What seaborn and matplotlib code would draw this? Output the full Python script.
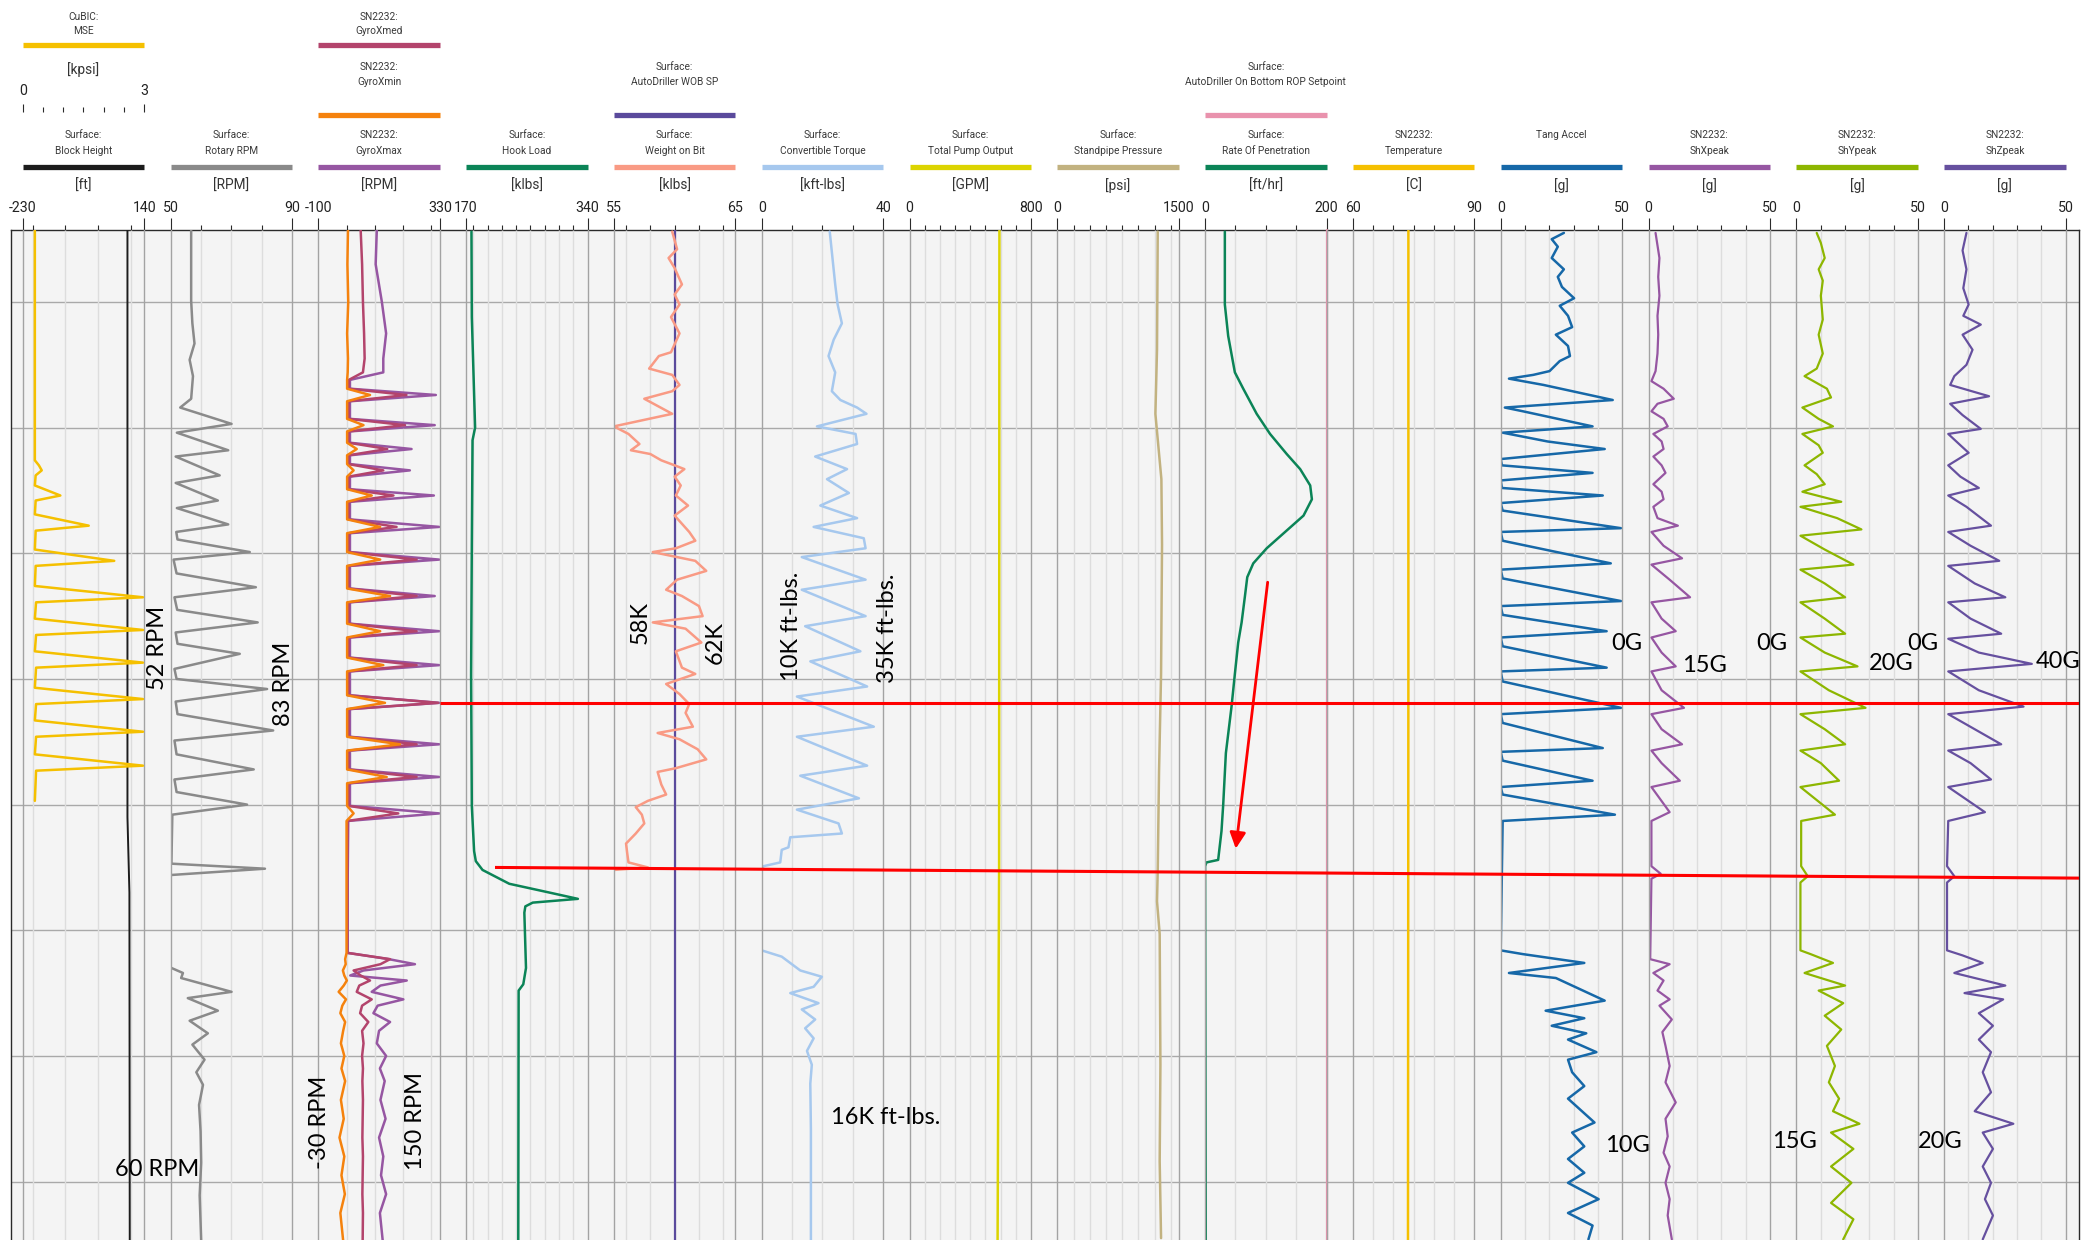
import numpy as np
import pandas as pd
import matplotlib.pyplot as plt
import seaborn as sns

# ---------------- depth axis (arbitrary units, one grid line every 10) ----------------
DEPTH_TOP, DEPTH_BOTTOM = -5.73, 74.65
depth_grid = [0, 10, 20, 30, 40, 50, 60, 70]

# ---------------- track scales ----------------
track_lo = [-230, 50, -100, 170, 55, 0, 0, 0, 0, 60, 0, 0, 0, 0]
track_hi = [140, 90, 330, 340, 65, 40, 800, 1500, 200, 90, 50, 50, 50, 50]
track_units = ["[ft]", "[RPM]", "[RPM]", "[klbs]", "[klbs]", "[kft-lbs]", "[GPM]",
               "[psi]", "[ft/hr]", "[C]", "[g]", "[g]", "[g]", "[g]"]
track_ticks = [[-200, -100, 0, 100], [60, 70, 80], [0, 100, 200, 300],
               [180, 200, 220, 240, 260, 280, 300, 320], [56, 58, 60, 62, 64],
               [10, 20, 30], [100, 200, 300, 400, 500, 600, 700],
               [200, 400, 600, 800, 1000, 1200, 1400], [50, 100, 150],
               [65, 70, 75, 80, 85], [10, 20, 30, 40], [10, 20, 30, 40],
               [10, 20, 30, 40], [10, 20, 30, 40]]
mse_lo, mse_hi = 0, 3
mse_ticks = [0.5, 1.0, 1.5, 2.0, 2.5]

# ---------------- curves ----------------
mse_depth = [-5.7, 12.6, 13.0, 13.4, 13.8, 14.6, 15.4, 15.8, 16.9, 17.8, 18.2, 19.7, 20.6,
             21.0, 22.6, 23.5, 23.9, 25.2, 26.1, 26.5, 27.8, 28.7, 29.1, 30.7, 31.6, 32.0,
             33.3, 34.2, 34.6, 36.0, 36.9, 37.3, 39.7]
mse_kpsi = [0.30, 0.30, 0.40, 0.47, 0.32, 0.30, 0.93, 0.32, 0.30, 1.63, 0.32, 0.30, 2.26,
            0.32, 0.30, 2.97, 0.33, 0.30, 2.97, 0.33, 0.30, 2.97, 0.33, 0.30, 2.97, 0.33,
            0.30, 2.97, 0.33, 0.30, 2.97, 0.33, 0.30]

bh_depth = [-5.7, 41.0, 47.0, 74.7]
bh_ft = [89, 89, 95, 96]

rpm_depth_a = [-5.7, -0.1, 1.7, 3.3, 4.6, 5.9, 7.7, 8.4, 9.7, 10.4, 11.8, 12.3, 13.8, 14.4,
               15.8, 16.4, 17.7, 18.3, 18.9, 19.9, 20.5, 21.6, 22.7, 23.5, 24.5, 25.5, 26.3,
               27.2, 28.0, 29.2, 30.0, 30.8, 31.8, 32.8, 34.1, 34.9, 36.0, 37.2, 38.0, 39.0,
               40.0, 40.8, 44.7, 45.1, 45.6]
rpm_a = [56.8, 56.8, 57.2, 57.9, 56.3, 57.4, 56.8, 53.2, 70.1, 52.1, 69.0, 51.7, 66.2, 51.7,
         65.6, 52.1, 69.0, 51.9, 52.3, 76.1, 51.0, 52.0, 78.1, 51.3, 52.2, 78.7, 51.7,
         52.3, 72.8, 51.3, 52.0, 81.8, 51.7, 52.3, 83.8, 51.3, 52.0, 77.4, 51.3, 52.0,
         75.2, 50.6, 50.3, 81.1, 50.3]
rpm_depth_b = [53.0, 53.4, 53.8, 54.9, 55.4, 56.4, 57.2, 58.2, 59.1, 60.3, 61.3, 62.3, 63.9,
               66.0, 68.5, 71.1, 74.7]
rpm_b = [50.3, 54.1, 53.5, 70.1, 55.7, 65.6, 56.3, 62.3, 57.2, 61.2, 58.5, 60.7, 59.4,
         59.9, 60.1, 59.6, 60.1]

gyro_depth = ([-5.7, -3.0, 0.0, 2.5, 4.5, 5.6, 6.2]
              + [6.9, 7.4, 7.9, 9.3, 9.8, 10.3, 11.2, 11.7, 12.2, 12.9, 13.4, 13.9, 14.9, 15.4,
                 15.9, 17.3, 17.9, 18.4, 19.9, 20.5, 21.0, 22.8, 23.4, 23.9, 25.6, 26.2, 26.7,
                 28.3, 28.9, 29.4, 31.3, 31.9, 32.4, 34.6, 35.2, 35.7, 37.2, 37.8, 38.3, 40.1,
                 40.7, 41.3]
              + [46.0, 51.8, 52.3, 52.7, 53.2, 53.6, 54.0, 54.4, 54.9, 55.5, 56.0, 56.6, 57.3,
                 58.0, 59.0, 60.0, 61.0, 62.0, 63.5, 65.0, 66.5, 68.0, 69.5, 71.0, 72.5, 74.7])
gyro_xmin = ([5, 3, 6, 2, 5, 4, 2]
             + [2, 83, 2, 2, 60, 2, 2, 36, 2, 2, 25, 2, 2, 89, 2, 2, 119, 2, 2, 119, 2, 2, 154,
                2, 2, 119, 2, 2, 130, 2, 2, 136, 2, 2, 189, 2, 2, 142, 2, 2, 25, 0]
             + [0, 0, -5, -3, -13, -8, 1, -10, -28, -2, -15, -22, -5, -12, -20, -8, -18, -5,
                -20, -10, -25, -8, -18, -6, -22, -12])
gyro_xmed = ([50, 55, 58, 62, 64, 58, 8]
             + [7, 212, 7, 7, 207, 7, 7, 144, 7, 7, 130, 7, 7, 166, 7, 7, 177, 7, 7, 248, 7, 7,
                248, 7, 7, 248, 7, 7, 248, 7, 7, 324, 7, 7, 248, 7, 7, 248, 7, 7, 183, 4]
             + [3, 3, 154, 120, 25, 50, 83, 45, 36, 89, 55, 48, 77, 55, 60, 55, 58, 56, 58, 57,
                56, 58, 57, 56, 58, 57])
gyro_xmax = ([107, 103, 125, 140, 130, 130, 12]
             + [12, 316, 12, 12, 312, 12, 12, 230, 12, 12, 224, 12, 12, 309, 12, 12, 328, 12,
                12, 328, 12, 12, 312, 12, 12, 328, 12, 12, 328, 12, 12, 328, 12, 12, 328, 12,
                12, 328, 12, 12, 328, 6]
             + [4, 4, 150, 242, 60, 13, 213, 120, 89, 201, 110, 95, 154, 115, 107, 140, 118,
                135, 120, 138, 115, 130, 122, 140, 118, 128])

hook_depth = [-5.6, 1.2, 10.0, 11.0, 19.3, 29.7, 40.1, 43.7, 44.5, 45.2, 46.3, 47.0, 47.5,
              47.8, 48.1, 48.6, 53.0, 54.3, 54.8, 74.7]
hook_klbs = [177.5, 178.0, 182.6, 179.0, 178.0, 177.0, 178.0, 181.2, 183.6, 193.0, 230.4,
             286.6, 326.4, 263.2, 252.9, 251.5, 253.8, 250.0, 243.5, 243.0]

wob_depth = [-5.6, -4.2, -3.5, -2.7, -1.4, -0.6, 0.2, 1.2, 2.5, 4.0,
             4.3, 5.3, 5.8, 6.6, 7.1, 7.7, 8.9, 9.9, 10.5, 11.3,
             11.8, 12.1, 12.6, 13.0, 13.3, 13.9, 14.6, 15.4, 16.2, 17.0,
             18.3, 19.0, 19.6, 19.9, 20.6, 21.4, 22.1, 22.9, 23.4, 24.2,
             25.0, 25.5, 26.0, 27.1, 27.8, 29.1, 29.6, 30.4, 31.2, 32.0,
             32.7, 33.8, 34.3, 34.8, 35.6, 36.4, 37.1, 37.4, 38.4, 39.2,
             39.7, 40.2, 40.8, 41.5, 42.3, 43.1, 43.9, 44.6, 45.0, 45.2]
wob_klbs = [59.8, 60.2, 59.5, 60.0, 60.6, 60.0, 60.4, 59.7, 60.4, 59.7,
            58.7, 57.9, 59.8, 60.4, 59.8, 57.5, 59.8, 55.0, 56.2, 57.1,
            56.4, 58.0, 58.9, 60.0, 60.8, 60.0, 60.5, 60.1, 61.1, 60.0,
            61.2, 61.7, 60.1, 58.2, 61.7, 62.6, 60.2, 59.3, 60.6, 62.0,
            62.3, 58.2, 60.9, 62.2, 60.1, 60.6, 61.7, 59.3, 60.4, 61.2,
            60.9, 61.5, 58.6, 60.4, 61.9, 62.6, 60.1, 58.6, 58.9, 59.3,
            57.8, 56.8, 57.3, 57.5, 56.8, 56.0, 56.1, 56.2, 57.8, 55.0]
wob_sp_depth = [-5.7, 74.7]
wob_sp_klbs = [60.0, 60.0]

torque_depth = [-5.6, -1.4, 0.2, 1.7, 3.0, 4.3, 5.6, 7.1, 7.8, 8.4,
                8.9, 9.9, 10.5, 11.3, 12.3, 13.3, 14.1, 15.2, 16.2, 17.2,
                17.9, 18.8, 19.6, 20.3, 22.1, 22.9, 25.0, 25.8, 27.8, 28.6,
                30.6, 31.4, 33.8, 34.6, 36.9, 37.7, 39.5, 40.4, 41.5, 42.3,
                42.6, 43.4, 43.6, 44.6, 44.9, 45.2, 51.6, 52.1, 53.2, 53.7,
                54.5, 55.0, 55.8, 56.3, 57.1, 57.8, 58.6, 59.6, 60.7, 62.2,
                65.9, 74.7]
torque_kftlbs = [22.4, 24.2, 25.0, 26.4, 23.7, 22.0, 24.2, 23.1, 25.9, 31.4,
                 34.5, 18.2, 30.9, 31.4, 17.6, 28.1, 21.5, 28.7, 19.3, 31.4,
                 17.1, 33.6, 34.2, 13.2, 34.2, 13.2, 34.2, 14.3, 32.5, 16.0,
                 34.7, 11.6, 36.9, 11.6, 34.7, 12.7, 32.0, 11.6, 25.3, 26.4,
                 9.4, 8.8, 6.6, 6.1, 0.6, 0.0, 0.0, 6.6, 12.7, 19.8,
                 17.1, 9.4, 18.7, 13.2, 17.6, 14.3, 17.1, 14.9, 16.5, 16.0,
                 16.2, 16.2]

pump_depth = [-5.7, 20.0, 45.0, 60.0, 74.7]
pump_gpm = [592, 591, 590, 585, 580]

spp_depth = [-5.6, 3.8, 8.9, 14.1, 19.3, 29.6, 37.4, 45.2, 47.7, 50.3, 60.7, 68.4, 74.5]
spp_psi = [1240, 1231, 1211, 1285, 1293, 1281, 1256, 1240, 1231, 1264, 1273, 1264, 1281]

rop_depth = [-5.6, 0.2, 2.7, 5.6, 6.9, 8.9, 10.5, 12.1, 13.3, 14.6, 15.7, 17.0, 18.3, 19.6,
             20.8, 21.9, 23.4, 25.5, 27.1, 29.6, 32.2, 35.9, 40.0, 42.1, 44.4, 44.6, 44.9, 74.7]
rop_fthr = [32.5, 32.5, 38.0, 49.0, 62.8, 84.9, 106.9, 134.4, 156.5, 173.0, 175.8, 162.0,
            131.7, 101.4, 79.3, 69.4, 65.6, 60.1, 54.5, 49.0, 43.5, 34.2, 29.8, 27.0, 21.5,
            2.2, 0.0, 1.1]
rop_sp_depth = [-5.7, 74.7]
rop_sp_fthr = [200, 200]

temp_depth = [-5.7, 30.0, 74.7]
temp_c = [73.7, 73.7, 73.6]

tang_depth = [-5.5, -5.0, -4.4, -3.5, -2.6, -2.0, -1.2, -0.3, 0.3, 1.1,
              2.0, 2.6, 3.5, 4.3, 4.7, 5.5, 5.8, 6.1, 6.6, 7.8,
              8.4, 8.7, 9.9, 10.4, 11.1, 11.7, 12.5, 13.0, 13.6, 14.2,
              14.8, 15.4, 16.0, 16.6, 18.0, 18.3, 19.0, 20.8, 21.3, 22.0,
              23.8, 24.2, 24.9, 26.2, 26.7, 27.4, 29.1, 29.4, 30.2, 32.3,
              32.8, 33.5, 35.5, 35.8, 36.5, 38.1, 38.6, 39.2, 40.8, 41.3,
              51.6, 51.9, 52.6, 53.4, 53.8, 55.6, 56.4, 57.0, 57.6, 58.2,
              58.7, 59.7, 60.3, 61.3, 62.4, 63.4, 65.3, 66.1, 67.2, 68.2,
              69.3, 70.1, 71.4, 72.5, 73.5, 74.6]
tang_g = [26.0, 21.0, 23.5, 21.0, 26.0, 23.5, 25.2, 30.2, 24.3, 27.7,
          29.4, 22.7, 27.7, 28.5, 24.3, 20.1, 13.4, 3.4, 17.6, 46.1,
          1.7, 9.2, 37.8, 0.8, 19.3, 42.8, 0.0, 0.5, 37.8, 0.0,
          0.5, 42.0, 0.0, 0.8, 49.5, 0.0, 0.8, 45.3, 0.0, 0.8,
          49.5, 0.0, 0.8, 43.6, 0.0, 0.8, 43.6, 0.0, 0.8, 49.5,
          0.0, 0.8, 42.0, 0.0, 0.8, 37.8, 0.0, 0.8, 47.0, 0.8,
          0.0, 9.2, 34.4, 3.4, 22.7, 42.8, 18.5, 34.4, 21.0, 35.2,
          27.7, 39.4, 27.7, 29.4, 34.4, 27.7, 38.6, 29.4, 34.4, 27.7,
          34.4, 27.7, 40.3, 27.7, 37.8, 36.1]

shx_depth = [-5.5, -3.5, -2.0, -0.5, 1.1, 2.6, 4.1, 5.5, 6.3, 6.9,
             7.7, 8.1, 8.7, 9.3, 9.9, 10.5, 11.1, 11.7, 12.3, 13.0,
             13.6, 14.5, 15.1, 15.7, 16.3, 17.2, 17.8, 18.3, 19.4, 20.4,
             20.9, 22.1, 23.5, 23.9, 25.2, 26.2, 26.7, 27.9, 29.0, 29.4,
             30.9, 32.3, 32.8, 34.0, 35.2, 35.7, 36.7, 38.1, 38.6, 40.6,
             41.3, 44.9, 45.5, 45.9, 52.3, 52.7, 53.4, 54.0, 54.8, 55.5,
             56.0, 57.1, 58.1, 59.2, 60.8, 62.1, 63.7, 65.0, 66.4, 67.7,
             68.8, 70.1, 71.4, 72.7, 74.6]
shx_g = [2.9, 4.5, 4.0, 4.5, 3.7, 4.0, 3.7, 2.9, 1.2, 6.2,
         10.4, 3.7, 1.2, 6.2, 7.9, 2.0, 5.4, 6.2, 2.0, 5.4,
         7.0, 2.0, 5.4, 6.2, 2.0, 3.7, 12.1, 1.2, 6.2, 13.8,
         1.2, 8.7, 17.1, 1.2, 5.4, 11.2, 1.2, 5.4, 11.2, 1.2,
         5.4, 14.6, 1.2, 5.4, 13.8, 1.2, 5.4, 12.9, 1.2, 8.7,
         1.2, 1.2, 5.0, 1.2, 0.7, 8.7, 2.0, 6.2, 3.7, 8.7,
         4.5, 9.6, 5.7, 7.0, 8.7, 7.0, 11.2, 7.0, 7.9, 6.2,
         8.7, 7.0, 8.7, 7.9, 9.6]

shy_depth = [-5.5, -4.7, -3.5, -2.6, -1.7, -0.5, 1.4, 2.6, 4.1, 5.3,
             5.9, 6.9, 7.6, 8.4, 9.3, 9.9, 10.5, 11.4, 12.0, 13.0,
             13.7, 14.5, 15.1, 15.9, 16.3, 17.2, 18.1, 18.6, 19.7, 20.9,
             21.3, 22.4, 23.5, 23.9, 25.2, 26.4, 26.7, 27.9, 29.0, 29.4,
             30.9, 32.3, 32.8, 34.0, 35.2, 35.7, 36.7, 38.1, 38.6, 40.8,
             41.3, 44.9, 45.7, 46.2, 51.6, 51.9, 52.6, 53.4, 54.0, 54.4,
             54.8, 55.8, 56.8, 57.9, 59.2, 60.8, 62.1, 63.4, 64.4, 65.4,
             66.1, 67.4, 68.8, 70.1, 71.7, 73.0, 74.6]
shy_g = [8.4, 10.1, 11.7, 9.2, 10.9, 10.1, 10.9, 9.2, 10.9, 8.4,
         3.4, 12.6, 14.3, 2.5, 9.2, 15.1, 2.5, 9.2, 10.9, 3.4,
         8.4, 11.7, 2.5, 18.5, 1.7, 16.8, 26.8, 1.7, 11.7, 23.5,
         1.7, 11.7, 20.1, 1.7, 11.7, 20.1, 1.7, 11.7, 25.2, 1.7,
         13.4, 28.5, 1.7, 11.7, 20.1, 1.7, 10.1, 17.6, 1.7, 15.9,
         2.0, 2.0, 4.7, 1.7, 1.7, 5.9, 15.1, 3.4, 13.4, 20.1,
         9.2, 19.3, 11.7, 18.5, 12.6, 15.9, 13.4, 17.6, 15.1, 26.0,
         14.3, 23.5, 14.3, 22.7, 14.3, 23.5, 19.3]

shz_depth = [-5.5, -4.1, -2.6, -1.1, 0.2, 1.1, 1.8, 2.6, 3.8, 5.0,
             5.9, 6.6, 7.5, 8.1, 9.0, 10.1, 10.5, 11.4, 12.0, 13.0,
             13.9, 14.8, 15.4, 16.3, 17.8, 18.3, 19.4, 20.6, 21.0, 22.4,
             23.5, 23.9, 25.2, 26.4, 26.8, 27.9, 28.8, 29.4, 30.9, 32.2,
             32.8, 34.0, 35.2, 35.7, 36.7, 38.0, 38.6, 40.6, 41.3, 44.9,
             45.7, 46.2, 51.6, 52.0, 52.6, 53.4, 54.4, 55.0, 55.5, 56.6,
             57.6, 58.7, 59.7, 61.3, 62.9, 64.4, 65.4, 66.1, 67.4, 68.8,
             70.1, 71.4, 72.7, 74.6]
shz_g = [9.2, 7.6, 9.2, 7.9, 10.1, 7.9, 15.1, 7.6, 11.7, 9.2,
         4.2, 2.5, 18.5, 2.5, 7.6, 15.1, 1.7, 6.7, 10.1, 1.7,
         6.7, 14.3, 1.7, 9.2, 19.3, 1.7, 10.9, 22.7, 1.7, 12.6,
         25.2, 1.7, 10.9, 23.5, 1.7, 14.3, 36.1, 1.7, 14.3, 32.7,
         1.7, 12.6, 23.5, 1.7, 10.9, 19.3, 1.7, 16.8, 1.7, 1.2,
         4.2, 1.2, 1.2, 7.6, 15.9, 4.2, 25.2, 8.4, 24.3, 14.3,
         20.1, 14.3, 19.3, 15.9, 19.3, 12.6, 28.5, 15.9, 20.1, 15.9,
         19.3, 16.8, 20.1, 15.9]

# ---------------- colours ----------------
col = {
    "mse": "#f5c000", "bh": "#1c1c1c", "rpm": "#8a8a8a", "xmed": "#b3446c",
    "xmin": "#f5820d", "xmax": "#9656a2", "hook": "#0b8457", "wobsp": "#5a4a9c",
    "wob": "#f99a84", "tq": "#a6c8ee", "pump": "#dcd400", "spp": "#c2b280",
    "ropsp": "#e992ad", "rop": "#0b8457", "temp": "#f5c000", "tang": "#1668a8",
    "shx": "#9656a2", "shy": "#8db600", "shz": "#66509f",
}

# (track, depth, values, colour, linewidth, on MSE scale)
curves = [
    (0, bh_depth, bh_ft, col["bh"], 1.4, False),
    (0, mse_depth, mse_kpsi, col["mse"], 1.8, True),
    (1, rpm_depth_a, rpm_a, col["rpm"], 1.8, False),
    (1, rpm_depth_b, rpm_b, col["rpm"], 1.8, False),
    (2, gyro_depth, gyro_xmax, col["xmax"], 1.8, False),
    (2, gyro_depth, gyro_xmed, col["xmed"], 1.8, False),
    (2, gyro_depth, gyro_xmin, col["xmin"], 1.8, False),
    (3, hook_depth, hook_klbs, col["hook"], 1.8, False),
    (4, wob_sp_depth, wob_sp_klbs, col["wobsp"], 1.6, False),
    (4, wob_depth, wob_klbs, col["wob"], 1.8, False),
    (5, torque_depth, torque_kftlbs, col["tq"], 1.8, False),
    (6, pump_depth, pump_gpm, col["pump"], 1.8, False),
    (7, spp_depth, spp_psi, col["spp"], 1.8, False),
    (8, rop_sp_depth, rop_sp_fthr, col["ropsp"], 1.6, False),
    (8, rop_depth, rop_fthr, col["rop"], 1.8, False),
    (9, temp_depth, temp_c, col["temp"], 1.8, False),
    (10, tang_depth, tang_g, col["tang"], 1.8, False),
    (11, shx_depth, shx_g, col["shx"], 1.6, False),
    (12, shy_depth, shy_g, col["shy"], 1.6, False),
    (13, shz_depth, shz_g, col["shz"], 1.6, False),
]

header_labels = [
    (0, "A", "CuBIC:", "MSE", col["mse"]),
    (0, "C", "Surface:", "Block Height", col["bh"]),
    (1, "C", "Surface:", "Rotary RPM", col["rpm"]),
    (2, "A", "SN2232:", "GyroXmed", col["xmed"]),
    (2, "B", "SN2232:", "GyroXmin", col["xmin"]),
    (2, "C", "SN2232:", "GyroXmax", col["xmax"]),
    (3, "C", "Surface:", "Hook Load", col["hook"]),
    (4, "B", "Surface:", "AutoDriller WOB SP", col["wobsp"]),
    (4, "C", "Surface:", "Weight on Bit", col["wob"]),
    (5, "C", "Surface:", "Convertible Torque", col["tq"]),
    (6, "C", "Surface:", "Total Pump Output", col["pump"]),
    (7, "C", "Surface:", "Standpipe Pressure", col["spp"]),
    (8, "B", "Surface:", "AutoDriller On Bottom ROP Setpoint", col["ropsp"]),
    (8, "C", "Surface:", "Rate Of Penetration", col["rop"]),
    (9, "C", "SN2232:", "Temperature", col["temp"]),
    (10, "C", "Tang Accel", "", col["tang"]),
    (11, "C", "SN2232:", "ShXpeak", col["shx"]),
    (12, "C", "SN2232:", "ShYpeak", col["shy"]),
    (13, "C", "SN2232:", "ShZpeak", col["shz"]),
]

# hand annotations: text, x px, y px, rotation
notes = [
    ("52 RPM", 158, 648, 90), ("83 RPM", 284, 684, 90), ("60 RPM", 157, 1169, 0),
    ("-30 RPM", 320, 1122, 90), ("150 RPM", 415, 1121, 90),
    ("58K", 640, 623, 90), ("62K", 715, 643, 90),
    ("10K ft-lbs.", 792, 626, 90), ("35K ft-lbs.", 887, 628, 90), ("16K ft-lbs.", 886, 1117, 0),
    ("0G", 1627, 643, 0), ("15G", 1704, 666, 0), ("0G", 1772, 643, 0), ("20G", 1891, 663, 0),
    ("0G", 1923, 643, 0), ("40G", 2058, 662, 0),
    ("10G", 1627, 1145, 0), ("15G", 1794, 1142, 0), ("20G", 1940, 1142, 0),
]
red_lines = [([440, 2079], [31.9, 31.9]), ([495, 2079], [45.0, 45.85])]
rop_arrow = ((103, 22.3), (50.5, 43.5))

# ---------------- layout ----------------
sns.set_style("white")
plt.rcParams["font.family"] = ["Lato", "DejaVu Sans"]

W, H = 2088, 1240
PLOT_L, PLOT_R, PLOT_T = 11, 2079, 230
TRACK_X0, TRACK_PITCH, TRACK_W = 22.7, 147.8, 121.5
ROWS = {"A": (17, 31, 45), "B": (67, 82, 115), "C": (135, 151, 167)}
HFONT = ["Roboto", "DejaVu Sans"]

fig = plt.figure(figsize=(W / 100, H / 100), dpi=100)
plot_h = 1 - PLOT_T / H

bg = fig.add_axes([PLOT_L / W, 0, (PLOT_R - PLOT_L) / W, plot_h])
bg.set_facecolor("#f4f4f4")
bg.set_xlim(0, 1)
bg.set_ylim(DEPTH_BOTTOM, DEPTH_TOP)
bg.set_xticks([])
bg.set_yticks(depth_grid)
bg.tick_params(axis="y", direction="out", length=3.5, width=0.8, color="#333333", labelleft=False)
bg.grid(True, axis="y", color="#a9a9a9", lw=1)
for side in ["top", "left", "right"]:
    bg.spines[side].set_color("#2a2a2a")
    bg.spines[side].set_linewidth(1)
bg.spines["bottom"].set_visible(False)


def track_left(i):
    return TRACK_X0 + i * TRACK_PITCH


def make_track_axes(i, lo, hi, ticks, visible=True):
    ax = fig.add_axes([track_left(i) / W, 0, TRACK_W / W, plot_h])
    ax.set_facecolor("none")
    ax.set_xlim(lo, hi)
    ax.set_ylim(DEPTH_BOTTOM, DEPTH_TOP)
    ax.set_yticks([])
    for s in ax.spines.values():
        s.set_visible(False)
    if visible:
        ax.set_xticks([lo, hi])
        ax.set_xticks(ticks, minor=True)
        ax.xaxis.tick_top()
        ax.tick_params(axis="x", which="major", length=9, width=0.8, color="#2a2a2a",
                       labeltop=False, labelbottom=False)
        ax.tick_params(axis="x", which="minor", length=3.8, width=0.8, color="#2a2a2a")
        ax.grid(True, which="minor", axis="x", color="#dddddd", lw=1)
        for side in ["left", "right"]:
            ax.spines[side].set_visible(True)
            ax.spines[side].set_color("#a3a3a3")
            ax.spines[side].set_linewidth(1)
    else:
        ax.set_xticks([])
    return ax


track_axes = [make_track_axes(i, track_lo[i], track_hi[i], track_ticks[i]) for i in range(14)]
mse_ax = make_track_axes(0, mse_lo, mse_hi, [], visible=False)

for t, dep, val, c, lw, on_mse in curves:
    ax = mse_ax if on_mse else track_axes[t]
    sns.lineplot(x=val, y=dep, ax=ax, color=c, lw=lw, sort=False, orient="y",
                 estimator=None, clip_on=(t != 8 or c != col["ropsp"]))
    ax.set_xlabel("")
    ax.set_ylabel("")
    ax.set_xlim((mse_lo, mse_hi) if on_mse else (track_lo[t], track_hi[t]))
    ax.set_ylim(DEPTH_BOTTOM, DEPTH_TOP)

# red arrow on the ROP track
track_axes[8].annotate("", xy=rop_arrow[1], xytext=rop_arrow[0],
                       arrowprops=dict(arrowstyle="-|>", color="#ff0000", lw=2,
                                       mutation_scale=24, shrinkA=0, shrinkB=0))

# overlay for red marker lines
ov = fig.add_axes([PLOT_L / W, 0, (PLOT_R - PLOT_L) / W, plot_h])
ov.set_xlim(PLOT_L, PLOT_R)
ov.set_ylim(DEPTH_BOTTOM, DEPTH_TOP)
ov.axis("off")
for xs, ds in red_lines:
    ov.plot(xs, ds, color="#ff0000", lw=2.2, solid_capstyle="butt")

# ---------------- header ----------------
hdr = fig.add_axes([0, 0, 1, 1])
hdr.set_xlim(0, W)
hdr.set_ylim(H, 0)
hdr.axis("off")
hdr.patch.set_alpha(0)

for t, row, l1, l2, c in header_labels:
    x0 = track_left(t)
    cx = x0 + TRACK_W / 2
    y1, y2, yb = ROWS[row]
    hdr.text(cx, y1, l1, ha="center", va="center", fontsize=7.3, color="#3a3a3a", family=HFONT)
    if l2:
        hdr.text(cx, y2, l2, ha="center", va="center", fontsize=7.3, color="#3a3a3a", family=HFONT)
    hdr.plot([x0, x0 + TRACK_W], [yb, yb], color=c, lw=3.8, solid_capstyle="butt")

for i in range(14):
    x0 = track_left(i)
    hdr.text(x0 + TRACK_W / 2, 186, track_units[i], ha="center", va="center",
             fontsize=9.8, color="#333333", family=HFONT)
    hdr.text(x0, 208, str(track_lo[i]), ha="center", va="center", fontsize=10.2,
             color="#222222", family=HFONT)
    hdr.text(x0 + TRACK_W, 208, str(track_hi[i]), ha="center", va="center", fontsize=10.2,
             color="#222222", family=HFONT)

# MSE scale block above track 0
x0 = track_left(0)
hdr.text(x0 + TRACK_W / 2, 70, "[kpsi]", ha="center", va="center", fontsize=9.8,
         color="#333333", family=HFONT)
hdr.text(x0, 91, str(mse_lo), ha="center", va="center", fontsize=10.2, color="#222222", family=HFONT)
hdr.text(x0 + TRACK_W, 91, str(mse_hi), ha="center", va="center", fontsize=10.2,
         color="#222222", family=HFONT)
ruler = fig.add_axes([x0 / W, 1 - 113 / H, TRACK_W / W, 0.0005])
ruler.set_xlim(mse_lo, mse_hi)
ruler.set_yticks([])
for s in ruler.spines.values():
    s.set_visible(False)
ruler.set_xticks([mse_lo, mse_hi])
ruler.set_xticks(mse_ticks, minor=True)
ruler.xaxis.tick_top()
ruler.tick_params(axis="x", which="major", length=5.5, width=0.8, color="#2a2a2a", labeltop=False)
ruler.tick_params(axis="x", which="minor", length=3.5, width=0.8, color="#2a2a2a")
ruler.patch.set_alpha(0)

for txt, x, y, rot in notes:
    fig.text(x / W, 1 - y / H, txt, ha="center", va="center", rotation=rot,
             fontsize=17, color="black")

fig.savefig("out.png", dpi=100, facecolor="white")
